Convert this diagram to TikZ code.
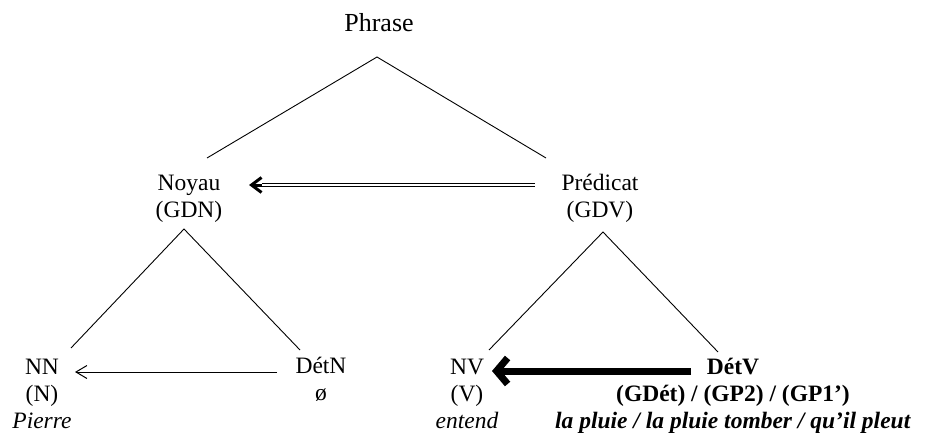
\documentclass[tikz,border=0pt]{standalone}
\usepackage{fontspec}
\setmainfont{Liberation Serif}
\usetikzlibrary{arrows.meta}
\begin{document}
\begin{tikzpicture}[x=1pt,y=-1pt,
  lbl/.style={inner sep=0pt, align=center, anchor=base, font=\fontsize{23.5}{27}\selectfont},
  branch/.style={line width=0.9pt},
  thinarrow/.style={line width=1pt, -{Straight Barb[length=11pt,width=13pt]}},
  thickarrow/.style={line width=7pt, -{Straight Barb[length=11pt,width=26pt]}},
  dblline/.style={double, double distance=2.4pt, line width=0.8pt},
  dblhead/.style={line width=3pt, -{Straight Barb[length=10pt,width=15pt]}}]
\useasboundingbox (0,0) rectangle (932,436);

% labels (anchor base = baseline of last line)
\node[lbl, font=\fontsize{26}{30}\selectfont] (phrase) at (379,32) {Phrase};
\node[lbl] (noyau) at (189,217) {Noyau\\(GDN)};
\node[lbl] (pred) at (600,217) {Prédicat\\(GDV)};
\node[lbl] (nn) at (42,428) {NN\\(N)\\\textit{Pierre}};
\node[lbl] (detn) at (321,400) {DétN\\ø};
\node[lbl] (nv) at (467,428) {NV\\(V)\\\textit{entend}};
\node[lbl, font=\fontsize{23.5}{27}\selectfont\bfseries] (detv) at (733,428) {DétV\\(GDét) / (GP2) / (GP1’)\\\textit{la~pluie / la~pluie tomber / qu’il pleut}};

% branch points
\coordinate (ph-b) at (377,57);
\coordinate (noy-t) at (207,158);
\coordinate (pred-t) at (546,158);
\coordinate (noy-b) at (184,229);
\coordinate (nn-t) at (71,348);
\coordinate (detn-t) at (300,350);
\coordinate (pred-b) at (603,232);
\coordinate (nv-t) at (489,350);
\coordinate (detv-t) at (718,352);

\draw[branch] (noy-t) -- (ph-b) -- (pred-t);
\draw[branch] (nn-t) -- (noy-b) -- (detn-t);
\draw[branch] (nv-t) -- (pred-b) -- (detv-t);

% arrows
\coordinate (dbl-s) at (535,185);
\coordinate (dbl-m) at (262,185);
\coordinate (dbl-e) at (249,185);
\draw[dblline] (dbl-s) -- (dbl-m);
\draw[dblhead] (dbl-m) -- (dbl-e);

\coordinate (thin-s) at (277,372);
\coordinate (thin-e) at (75,372);
\draw[thinarrow] (thin-s) -- (thin-e);

\coordinate (thick-s) at (691,371);
\coordinate (thick-e) at (492,371);
\draw[thickarrow] (thick-s) -- (thick-e);
\end{tikzpicture}
\end{document}
